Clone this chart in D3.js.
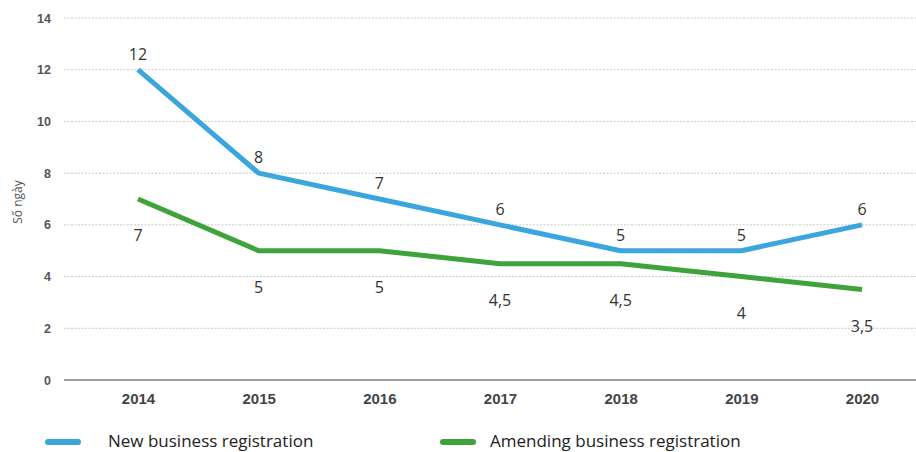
<!DOCTYPE html>
<html>
<head>
<meta charset="utf-8">
<script src="https://cdn.jsdelivr.net/npm/d3@7"></script>
<style>
  body { margin: 0; background: #fff; }
  svg { font-family: "Open Sans", "Noto Sans", sans-serif; }
</style>
</head>
<body>
<div id="plot"></div>
<script>
// chart data
var years = ["2014", "2015", "2016", "2017", "2018", "2019", "2020"];
var newReg = [12, 8, 7, 6, 5, 5, 6];
var amendReg = [7, 5, 5, 4.5, 4.5, 4, 3.5];
var yTicks = [0, 2, 4, 6, 8, 10, 12, 14];
var seriesNames = ["New business registration", "Amending business registration"];

var width = 916, height = 452;
var colors = ["#3aa6dd", "#3fa33c"];

var svg = d3.select("#plot").append("svg")
    .attr("width", width)
    .attr("height", height);

// scales
var xScale = d3.scalePoint().domain(years).range([138, 862]);
var yScale = d3.scaleLinear().domain([0, 14]).range([380, 18]);

// gridlines
var gridLeft = 64, gridRight = 916;
svg.append("g").selectAll("line")
    .data(yTicks.filter(function (d) { return d > 0; }))
    .enter().append("line")
    .attr("x1", gridLeft).attr("x2", gridRight)
    .attr("y1", function (d) { return yScale(d); })
    .attr("y2", function (d) { return yScale(d); })
    .attr("stroke", "#c8c8c8")
    .attr("stroke-width", 1)
    .attr("stroke-dasharray", "2,1.5");

// zero line
svg.append("line")
    .attr("x1", gridLeft).attr("x2", gridRight)
    .attr("y1", yScale(0)).attr("y2", yScale(0))
    .attr("stroke", "#a0a0a0")
    .attr("stroke-width", 2);

// y axis
var yAxis = d3.axisLeft(yScale).tickValues(yTicks).tickSize(0).tickPadding(0);
var gy = svg.append("g")
    .attr("transform", "translate(51,0)")
    .call(yAxis);
gy.select(".domain").remove();
gy.selectAll("text")
    .attr("fill", "#555")
    .style("font-size", "12.5px")
    .style("font-weight", "600");

// x axis
var xAxis = d3.axisBottom(xScale).tickSize(0).tickPadding(0);
var gx = svg.append("g")
    .attr("transform", "translate(0,393)")
    .call(xAxis);
gx.select(".domain").remove();
gx.selectAll("text")
    .attr("fill", "#444")
    .style("font-size", "15px")
    .style("font-weight", "600");

// y axis title
svg.append("text")
    .attr("transform", "translate(22,202) rotate(-90)")
    .attr("text-anchor", "middle")
    .attr("fill", "#555")
    .style("font-size", "12px")
    .text("Số ngày");

// lines
var line = d3.line()
    .x(function (d, i) { return xScale(years[i]); })
    .y(function (d) { return yScale(d); });

[amendReg, newReg].forEach(function (s, k) {
    svg.append("path")
        .datum(s)
        .attr("fill", "none")
        .attr("stroke", k === 0 ? colors[1] : colors[0])
        .attr("stroke-width", 5)
        .attr("stroke-linejoin", "round")
        .attr("d", line);
});

function fmt(v) { return String(v).replace(".", ","); }

// value labels
svg.append("g").selectAll("text")
    .data(newReg)
    .enter().append("text")
    .attr("x", function (d, i) { return xScale(years[i]); })
    .attr("y", function (d) { return yScale(d) - 10; })
    .attr("text-anchor", "middle")
    .attr("fill", "#333")
    .style("font-size", "16px")
    .style("font-weight", "500")
    .text(fmt);

svg.append("g").selectAll("text")
    .data(amendReg)
    .enter().append("text")
    .attr("x", function (d, i) { return xScale(years[i]); })
    .attr("y", function (d) { return yScale(d) + 42; })
    .attr("text-anchor", "middle")
    .attr("fill", "#333")
    .style("font-size", "16px")
    .style("font-weight", "500")
    .text(fmt);

// legend
var legendX = [48, 443];
seriesNames.forEach(function (name, i) {
    var g = svg.append("g").attr("transform", "translate(" + legendX[i] + ",442)");
    g.append("line")
        .attr("x1", 0).attr("x2", 30)
        .attr("stroke", colors[i])
        .attr("stroke-width", 6)
        .attr("stroke-linecap", "round");
    g.append("text")
        .attr("x", i === 0 ? 60 : 47)
        .attr("y", 5)
        .attr("fill", "#222")
        .style("font-size", "17px")
        .text(name);
});
</script>
</body>
</html>
